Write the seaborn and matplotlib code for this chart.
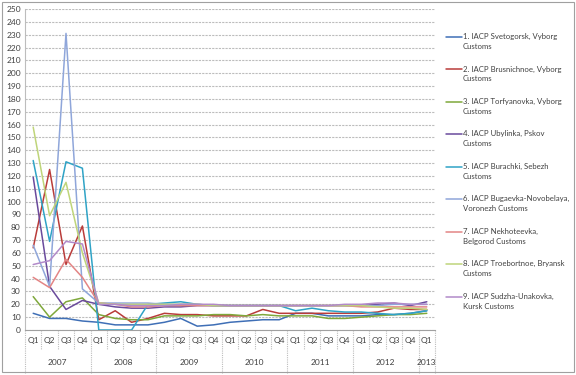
import matplotlib
matplotlib.use('Agg')
import matplotlib.pyplot as plt
import matplotlib.patches as patches
import pandas as pd
import seaborn as sns

# dados (2007 Q1 ate 2013 Q1)
quarters = ['Q1', 'Q2', 'Q3', 'Q4'] * 6 + ['Q1']
years = ['2007', '2008', '2009', '2010', '2011', '2012', '2013']

s1 = [13, 9, 9, 7, 6, 4, 4, 4, 6, 9, 3, 4, 6, 7, 8, 8, 13, 13, 11, 11, 11, 12, 12, 13, 15]
s2 = [64, 125, 51, 81, 8, 15, 6, 9, 13, 12, 12, 11, 11, 11, 16, 13, 13, 13, 13, 13, 13, 14, 17, 16, 16]
s3 = [26, 10, 22, 25, 12, 9, 8, 8, 11, 11, 11, 12, 12, 11, 12, 11, 11, 11, 9, 9, 10, 11, 12, 12, 13]
s4 = [119, 34, 16, 23, 20, 18, 17, 17, 18, 18, 19, 19, 19, 19, 19, 19, 19, 19, 19, 19, 19, 20, 21, 19, 22]
s5 = [132, 69, 131, 126, 0, 0, 0, 20, 21, 22, 20, 19, 19, 19, 19, 19, 15, 17, 15, 14, 14, 13, 12, 13, 15]
s6 = [66, 34, 231, 32, 21, 21, 21, 21, 20, 20, 20, 19, 19, 19, 19, 19, 19, 19, 19, 19, 19, 19, 20, 20, 20]
s7 = [41, 33, 55, 41, 21, 20, 18, 18, 19, 19, 19, 19, 19, 19, 19, 19, 19, 19, 19, 19, 18, 18, 18, 18, 18]
s8 = [158, 89, 115, 60, 21, 20, 20, 20, 20, 20, 20, 19, 19, 19, 19, 19, 19, 19, 19, 19, 19, 18, 17, 17, 16]
s9 = [51, 54, 69, 67, 20, 20, 19, 19, 19, 20, 20, 20, 19, 19, 19, 19, 19, 19, 19, 20, 20, 21, 21, 20, 20]

names = ['1. IACP Svetogorsk, Vyborg\nCustoms',
         '2. IACP Brusnichnoe, Vyborg\nCustoms',
         '3. IACP Torfyanovka, Vyborg\nCustoms',
         '4. IACP Ubylinka, Pskov\nCustoms',
         '5. IACP Burachki, Sebezh\nCustoms',
         '6. IACP Bugaevka-Novobelaya,\nVoronezh Customs',
         '7. IACP Nekhoteevka,\nBelgorod Customs',
         '8. IACP Troebortnoe, Bryansk\nCustoms',
         '9. IACP Sudzha-Unakovka,\nKursk Customs']
series = [s1, s2, s3, s4, s5, s6, s7, s8, s9]
cores = ['#3F6FB6', '#B93C3A', '#7FA83B', '#6A4A9C', '#2FA3C6',
         '#8FA6DA', '#E38585', '#BFD57A', '#B28AC9']

# montar dataframe em formato longo
linhas = []
for nome, vals in zip(names, series):
    for i, v in enumerate(vals):
        linhas.append({'idx': i, 'valor': v, 'posto': nome})
df = pd.DataFrame(linhas)

sns.set_style('white')
plt.rcParams['font.family'] = ['Lato', 'DejaVu Sans']

fig = plt.figure(figsize=(5.76, 3.75), dpi=100)
ax = fig.add_axes([25 / 576, 45 / 375, 410 / 576, 321 / 375])

sns.lineplot(data=df, x='idx', y='valor', hue='posto', palette=cores,
             linewidth=1.1, ax=ax, legend=False)

ax.set_xlim(-0.5, 24.5)
ax.set_ylim(0, 250)
ax.set_yticks(range(0, 251, 10))
ax.tick_params(axis='y', labelsize=6, length=2, color='#A0A0A0', pad=1, labelcolor='#404040')
ax.set_xticks([])
ax.set_xlabel('')
ax.set_ylabel('')
ax.grid(axis='y', color='#BDBDBD', linestyle=(0, (2, 1)), linewidth=0.8)
ax.set_axisbelow(True)
for s in ['top', 'right']:
    ax.spines[s].set_visible(False)
ax.spines['left'].set_color('#BDBDBD')
ax.spines['left'].set_linestyle((0, (1, 1)))
ax.spines['bottom'].set_color('#A0A0A0')

# rotulos de categoria em dois niveis
tr = ax.get_xaxis_transform()
for i, q in enumerate(quarters):
    ax.text(i, -0.034, q, transform=tr, ha='center', va='center', fontsize=6, color='#404040')
for k, ano in enumerate(years):
    ini = k * 4 - 0.5
    fim = min(ini + 4, 24.5)
    ax.text((ini + fim) / 2, -0.1, ano, transform=tr, ha='center', va='center', fontsize=6, color='#404040')
for i in range(26):
    pos = i - 0.5
    baixo = -0.135 if (i % 4 == 0 or i == 25) else -0.062
    ax.plot([pos, pos], [0, baixo], transform=tr, clip_on=False, color='#BDBDBD',
            linestyle=(0, (1, 1)), linewidth=0.8)

# legenda
handles = [plt.Line2D([], [], color=c, linewidth=1.1) for c in cores]
leg = fig.legend(handles, names, loc='upper left', bbox_to_anchor=(439 / 576, 1 - 26 / 375),
                 frameon=False, fontsize=5.6, handlelength=2.05, handletextpad=0.15,
                 labelspacing=2.02, labelcolor='#404040')
for t in leg.get_texts():
    t.set_linespacing(1.45)
# linha da legenda alinhada com a primeira linha do texto
for ln in leg.get_lines():
    y = ln.get_ydata()
    ln.set_ydata([v + 3.5 for v in y])

# borda externa
fig.patches.append(patches.Rectangle((2 / 576, 3 / 375), 572 / 576, 370 / 375,
                                     transform=fig.transFigure, fill=False,
                                     edgecolor='#A0A0A0', linewidth=0.8))

fig.savefig('out.png', dpi=100)
